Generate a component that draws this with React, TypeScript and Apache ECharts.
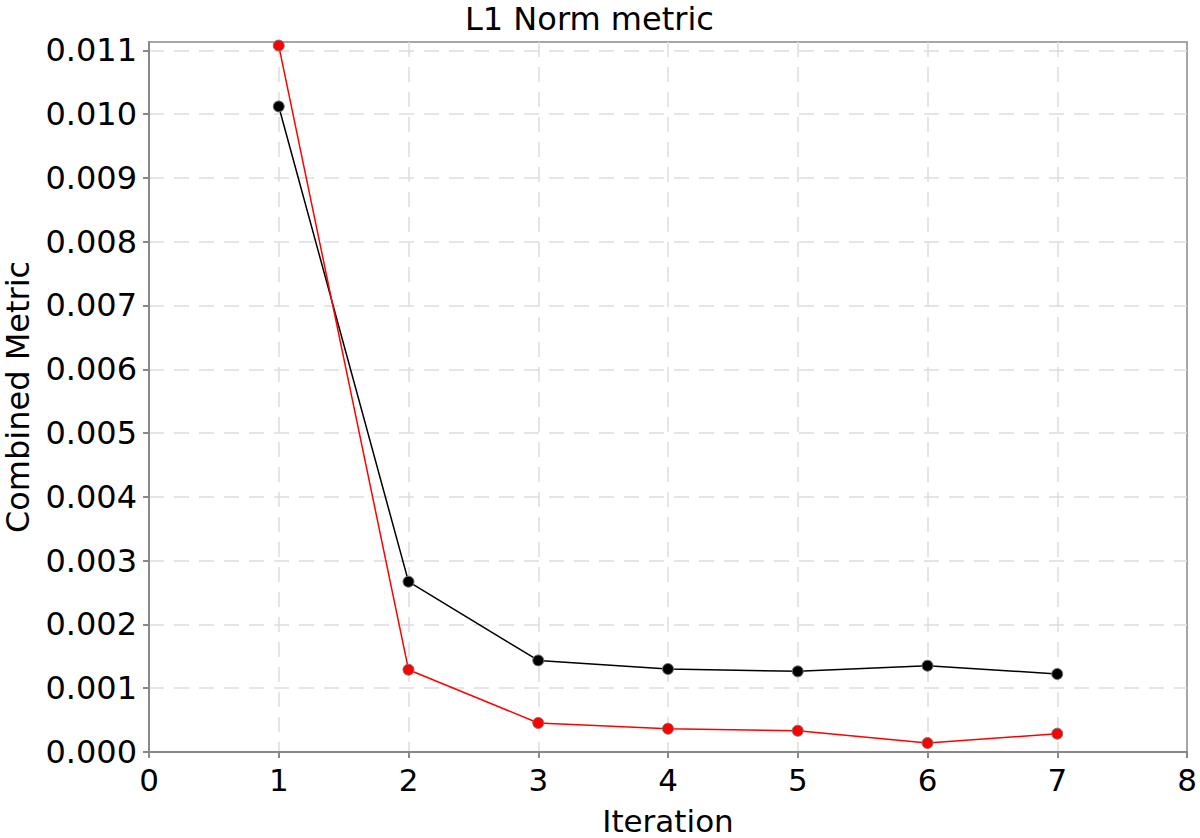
import React, { useEffect, useRef } from "react";
import * as echarts from "echarts";

const iterations = [1, 2, 3, 4, 5, 6, 7];
const blackSeries = [0.01012, 0.00267, 0.001436, 0.001301, 0.001264, 0.001353, 0.001223];
const redSeries = [0.011074, 0.00129, 0.000455, 0.000365, 0.000334, 0.000141, 0.000287];
const titleText = "L1 Norm metric";
const xName = "Iteration";
const yName = "Combined Metric";

const FONT = "DejaVu Sans";

export default function App() {
  const ref = useRef<HTMLDivElement>(null);
  useEffect(() => {
    if (!ref.current) return;
    const chart = echarts.init(ref.current, undefined, { renderer: "svg" });
    const axisGray = "#888888";
    chart.setOption({
      animation: false,
      backgroundColor: "#ffffff",
      title: {
        text: titleText,
        left: 460,
        top: -2,
        textStyle: { fontFamily: FONT, fontSize: 32, fontWeight: "normal", color: "#000" },
      },
      grid: {
        left: 149,
        right: 13,
        top: 42,
        bottom: 86,
        outerBoundsMode: "none",
        containLabel: false,
        show: true,
        borderColor: axisGray,
        borderWidth: 1.5,
        backgroundColor: "transparent",
      },
      xAxis: {
        type: "value",
        min: 0,
        max: 8,
        interval: 1,
        name: xName,
        nameLocation: "middle",
        nameGap: 53,
        nameTextStyle: { fontFamily: FONT, fontSize: 31, lineHeight: 31, color: "#000" },
        axisLine: { show: true, lineStyle: { color: axisGray, width: 2 } },
        axisTick: { show: true, inside: false, length: 6, lineStyle: { color: axisGray, width: 2 } },
        axisLabel: { fontFamily: FONT, fontSize: 31, color: "#000", margin: 12 },
        splitLine: {
          show: true,
          showMinLine: false,
          showMaxLine: false,
          lineStyle: { color: "#dddddd", type: [15, 10], width: 1.5 },
        },
      },
      yAxis: {
        type: "value",
        min: 0,
        max: 0.01113,
        interval: 0.001,
        name: yName,
        nameLocation: "middle",
        nameGap: 113,
        nameTextStyle: { fontFamily: FONT, fontSize: 32, color: "#000" },
        axisLine: { show: true, lineStyle: { color: axisGray, width: 2 } },
        axisTick: { show: true, inside: false, length: 6, lineStyle: { color: axisGray, width: 2 } },
        axisLabel: {
          fontFamily: FONT,
          fontSize: 32,
          color: "#000",
          margin: 12,
          showMaxLabel: false,
          formatter: (v: number) => v.toFixed(3),
        },
        splitLine: {
          show: true,
          showMinLine: false,
          showMaxLine: false,
          lineStyle: { color: "#dddddd", type: [15, 10], width: 1.5 },
        },
      },
      series: [
        {
          type: "line",
          data: iterations.map((x, i) => [x, blackSeries[i]]),
          symbol: "circle",
          symbolSize: 11,
          clip: false,
          lineStyle: { color: "#000", width: 1.5 },
          itemStyle: { color: "#000", borderColor: "#777", borderWidth: 1 },
          z: 3,
        },
        {
          type: "line",
          data: iterations.map((x, i) => [x, redSeries[i]]),
          symbol: "circle",
          symbolSize: 11,
          clip: false,
          lineStyle: { color: "#ff0000", width: 1.5 },
          itemStyle: { color: "#ff0000", borderColor: "#777", borderWidth: 1 },
          z: 4,
        },
      ],
    });
    return () => chart.dispose();
  }, []);
  return (
    <div
      ref={ref}
      style={{ position: "absolute", left: 0, top: 0, width: 1200, height: 838 }}
    />
  );
}
